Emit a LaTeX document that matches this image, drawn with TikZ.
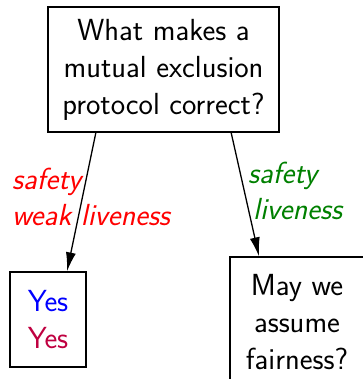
\documentclass[tikz,border=0pt]{standalone}
\usepackage{fontspec}
\usetikzlibrary{arrows.meta}
\renewcommand{\familydefault}{\sfdefault}
\begin{document}
\begin{tikzpicture}[x=1pt,y=-1pt,
  box/.style={draw=black,line width=1.3pt,align=center,inner sep=0pt,
    font=\fontsize{30.5}{37}\selectfont},
  edgelabel/.style={align=left,inner sep=0pt,anchor=north west,
    font=\fontsize{30.5}{35.5}\selectfont\itshape},
  link/.style={line width=1.3pt,-{Latex[length=19pt,width=10pt]}}]
\useasboundingbox (0,0) rectangle (362,379);
% question at the root
\node[box,minimum width=231pt,minimum height=125pt] (q) at (163.5,69.5)
  {What makes a\\mutual exclusion\\protocol correct?};
% answer for the weak requirement
\node[box,minimum width=76pt,minimum height=95pt] (yes) at (48,319.5)
  {\textcolor{blue}{Yes}\\\textcolor{purple}{Yes}};
% follow-up question
\node[box,minimum width=134pt,minimum height=130pt] (fair) at (297,322)
  {May we\\assume\\fairness?};
% connectors
\coordinate (qa) at (96,132);
\coordinate (qb) at (231,132);
\draw[link] (qa) -- (yes.north -| 67,0);
\draw[link] (qb) -- (fair.north -| 259,0);
% labels beside the connectors
\node[edgelabel,text=red] (l1) at (12,168) {safety\\weak liveness};
\node[edgelabel,text=green!50!black] (l2) at (248,162) {safety\\\hspace*{5pt}liveness};
\end{tikzpicture}
\end{document}
